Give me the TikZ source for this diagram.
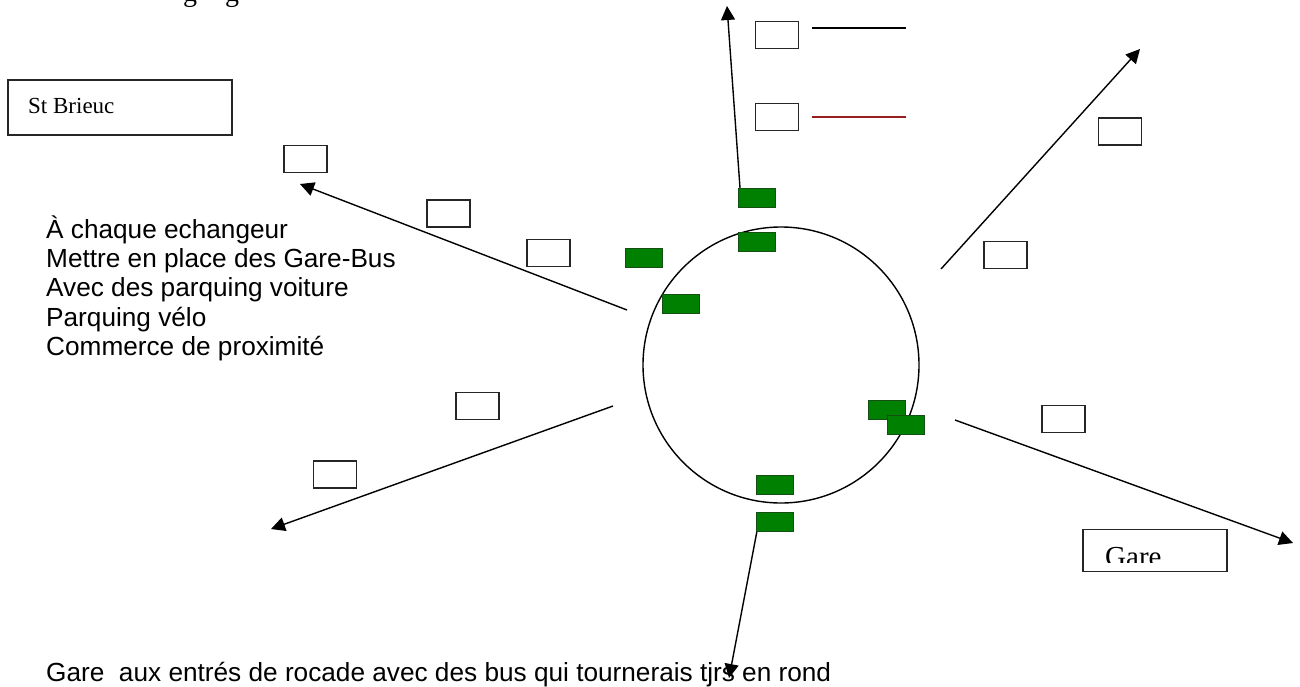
\documentclass[tikz,border=0pt]{standalone}
\usepackage{fontspec}
\setmainfont{Liberation Serif}
\newfontfamily\arialf{Liberation Sans}
\usetikzlibrary{arrows.meta}
\definecolor{boxgreen}{RGB}{0,128,0}
\definecolor{boxgreenline}{RGB}{20,80,20}
\definecolor{darkred}{RGB}{150,30,30}
\begin{document}
\begin{tikzpicture}[x=1pt,y=-1pt,
  wbox/.style={draw=black!85, line width=1.4pt, fill=white, minimum width=43pt, minimum height=27pt, inner sep=0pt},
  gbox/.style={draw=boxgreenline, fill=boxgreen, line width=0.8pt, minimum width=37pt, minimum height=19pt, inner sep=0pt},
  arr/.style={line width=1.4pt, -{Triangle[length=14pt,width=14pt]}},
  txt/.style={font=\arialf\fontsize{26.2}{30}\selectfont, anchor=base west, inner sep=0pt},
  frag/.style={font=\fontsize{28}{32}\selectfont, anchor=base west, inner sep=0pt}]
\useasboundingbox (0,0) rectangle (1300,686);
\fill[white] (0,0) rectangle (1300,686);

% clipped fragment of text at top
\begin{scope}
\clip (0,0) rectangle (1300,686);
\node[frag] (fragA) at (183,1) {g};
\node[frag] (fragB) at (225,1) {g};
\end{scope}

% ring road
\node[draw, circle, line width=1.4pt, minimum size=276pt, inner sep=0pt] (ring) at (781,365) {};

% arrow endpoints
\coordinate (nS) at (740,188);
\coordinate (nE) at (727,6);
\coordinate (nwS) at (627,310);
\coordinate (nwE) at (300,184);
\coordinate (neS) at (941,269);
\coordinate (neE) at (1140,49);
\coordinate (swS) at (613,406);
\coordinate (swE) at (271,529);
\coordinate (seS) at (955,420);
\coordinate (seE) at (1293,543);
\coordinate (sS) at (757,531);
\coordinate (sE) at (729,678);

\draw[arr] (nS) -- (nE);
\draw[arr] (nwS) -- (nwE);
\draw[arr] (neS) -- (neE);
\draw[arr] (swS) -- (swE);
\draw[arr] (seS) -- (seE);
\draw[arr] (sS) -- (sE);

% legend
\node[wbox] (t1) at (777,35) {};
\node[wbox] (t2) at (777,117) {};
\coordinate (l1a) at (812,28);
\coordinate (l1b) at (906,28);
\coordinate (l2a) at (812,117);
\coordinate (l2b) at (906,117);
\draw[line width=1.4pt] (l1a) -- (l1b);
\draw[line width=1.4pt, darkred] (l2a) -- (l2b);

% St Brieuc
\node[draw=black!85, line width=1.4pt, minimum width=224pt, minimum height=55pt, inner sep=0pt] (sb) at (120,107.5) {};
\node[font=\fontsize{23}{26}\selectfont, anchor=base west, inner sep=0pt] (sbt) at (28,113) {St Brieuc};

% white boxes
\node[wbox] (b1) at (305.5,159) {};
\node[wbox] (b2) at (448.5,213.5) {};
\node[wbox] (b3) at (548.5,253) {};
\node[wbox] (b4) at (1120,131.5) {};
\node[wbox] (b5) at (1005.5,255) {};
\node[wbox] (b6) at (477.5,406) {};
\node[wbox] (b7) at (335,474.5) {};
\node[wbox] (b8) at (1063.5,419) {};

% Gare box with clipped text
\node[draw=black!85, line width=1.4pt, fill=white, minimum width=144pt, minimum height=42pt, inner sep=0pt] (gare) at (1155,550.5) {};
\begin{scope}
\clip (1083,530) rectangle (1227,562);
\node[font=\fontsize{29}{32}\selectfont, anchor=base west, inner sep=0pt] (garet) at (1105,566.5) {Gare};
\end{scope}

% green boxes
\node[gbox] (g1) at (756.5,197.5) {};
\node[gbox] (g2) at (756.5,241.5) {};
\node[gbox] (g3) at (644,257.5) {};
\node[gbox] (g4) at (681,303.5) {};
\node[gbox] (g5) at (887,409.5) {};
\node[gbox] (g6) at (906,424.5) {};
\node[gbox] (g7) at (774.5,484.5) {};
\node[gbox] (g8) at (774.5,521.5) {};

% texts
\node[txt] (x1) at (46,238) {À chaque echangeur};
\node[txt] (x2) at (46,267) {Mettre en place des Gare-Bus};
\node[txt] (x3) at (46,296.5) {Avec des parquing voiture};
\node[txt] (x4) at (46,326) {Parquing vélo};
\node[txt] (x5) at (46,355) {Commerce de proximité};
\node[txt] (x6) at (46,681) {Gare\ \ aux entrés de rocade avec des bus qui tournerais tjrs en rond};
\end{tikzpicture}
\end{document}
